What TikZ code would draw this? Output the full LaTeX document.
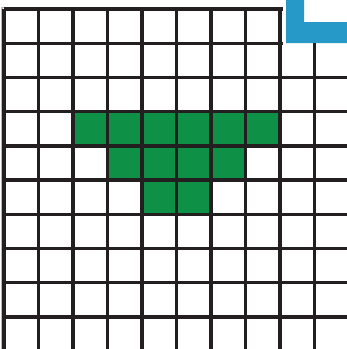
\documentclass[tikz,border=0pt]{standalone}
\usepackage{tikz}
\definecolor{cellgreen}{HTML}{0E9146}
\definecolor{cornerblue}{HTML}{2699C9}
\definecolor{gridink}{HTML}{231F20}
\newcommand{\cellw}{34.5}
\newcommand{\cellh}{34.2}

\begin{document}
\begin{tikzpicture}[
    x=1pt, y=-1pt,
    gridrule/.style={draw=gridink, line width=3.4pt},
    frameshade/.style={draw=gray!55, line width=1pt},
    greencell/.style={fill=cellgreen}
]
\useasboundingbox (0,0) rectangle (347,349);

% Green cells
\foreach \c/\r in {2/3, 3/3, 4/3, 5/3, 6/3, 7/3, 3/4, 4/4, 5/4, 6/4, 4/5, 5/5}
  \fill[greencell] ({4+\cellw*\c},{9+\cellh*\r}) rectangle ++(\cellw,\cellh);

% Blue corner mark
\fill[cornerblue] (286,0) -- (304,0) -- (304,22) -- (347,22) -- (347,43) -- (286,43) -- cycle;

% Faint outer frame
\draw[frameshade] (2,349) -- (2,7) -- (283,7);

% Vertical rules
\foreach \i in {0,...,8}
  \draw[gridrule] ({4+\cellw*\i},9) -- ({4+\cellw*\i},349);
\draw[gridrule] ({4+\cellw*9},43) -- ({4+\cellw*9},349);

% Horizontal rules
\foreach \j in {0,1}
  \draw[gridrule] (4,{9+\cellh*\j}) -- (283,{9+\cellh*\j});
\foreach \j in {2,...,9}
  \draw[gridrule] (4,{9+\cellh*\j}) -- (347,{9+\cellh*\j});

\end{tikzpicture}
\end{document}
